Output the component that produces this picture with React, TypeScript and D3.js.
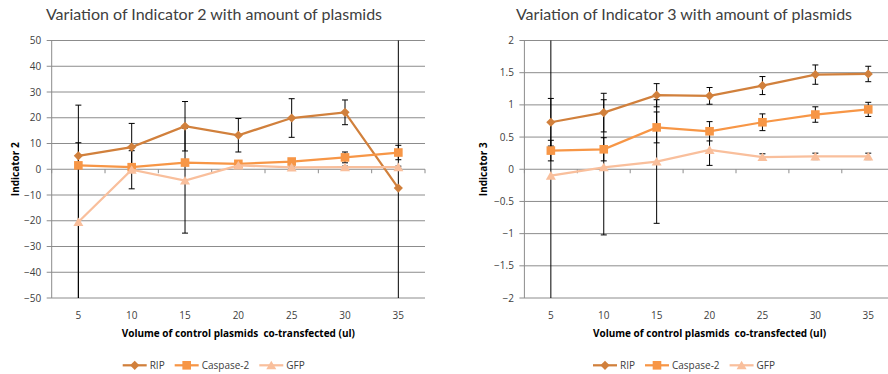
import React from 'react';
import * as d3 from 'd3';

// x categories: volume of control plasmids (ul)
const categories = ['5', '10', '15', '20', '25', '30', '35'];

// Indicator 2 (left chart)
const ind2Rip = [5.2, 8.6, 16.7, 13.2, 19.9, 22.1, -7.3];
const ind2RipErrUp = [19.7, 9.2, 9.6, 6.5, 7.5, 4.8, 60];
const ind2RipErrDown = [60, 9.2, 9.6, 6.5, 7.5, 4.8, 60];
const ind2Caspase = [1.5, 0.8, 2.6, 2.1, 3.0, 4.6, 6.5];
const ind2CaspaseErr = [0.6, 0.5, 0.6, 0.5, 0.5, 2.1, 2.8];
const ind2Gfp = [-20.5, -0.2, -4.4, 1.5, 0.7, 0.8, 0.8];
const ind2GfpErr = [30.8, 7.4, 20.4, 0.5, 0.4, 0.4, 0.4];
const ind2Ticks = [50, 40, 30, 20, 10, 0, -10, -20, -30, -40, -50];

// Indicator 3 (right chart)
const ind3Rip = [0.73, 0.88, 1.15, 1.14, 1.3, 1.47, 1.48];
const ind3RipErr = [0.37, 0.3, 0.18, 0.13, 0.14, 0.15, 0.12];
const ind3Caspase = [0.29, 0.31, 0.65, 0.59, 0.73, 0.85, 0.93];
const ind3CaspaseErr = [0.16, 0.18, 0.24, 0.15, 0.13, 0.12, 0.11];
const ind3Gfp = [-0.1, 0.03, 0.12, 0.3, 0.19, 0.2, 0.2];
const ind3GfpErr = [2.2, 1.05, 0.96, 0.24, 0.05, 0.05, 0.05];
const ind3Ticks = [2, 1.5, 1, 0.5, 0, -0.5, -1, -1.5, -2];

const seriesNames = ['RIP', 'Caspase-2', 'GFP'];
const colors = ['#d1803c', '#f79646', '#f9bf9c'];

const smallFont = "'Open Sans', sans-serif";
const titleFont = "Lato, sans-serif";

function textWidth(t, font) {
  const c = document.createElement('canvas').getContext('2d');
  c.font = font;
  return c.measureText(t).width;
}

function Marker({ kind, x, y, color }) {
  if (kind === 0) {
    const r = 4.6;
    return <path d={`M${x},${y - r}L${x + r},${y}L${x},${y + r}L${x - r},${y}Z`} fill={color} />;
  }
  if (kind === 1) {
    const s = 8.6;
    return <rect x={x - s / 2} y={y - s / 2} width={s} height={s} fill={color} />;
  }
  return <path d={`M${x},${y - 4.6}L${x + 5},${y + 4}L${x - 5},${y + 4}Z`} fill={color} />;
}

function Panel(props) {
  const { id, left, right, top, bottom, domain, ticks, title, titleX, yTitle, yTitleX, legendX, series } = props;
  const x = d3.scaleBand().domain(categories).range([left, right]);
  const bw = x.bandwidth();
  const cx = (c) => x(c) + bw / 2;
  const y = d3.scaleLinear().domain(domain).range([bottom, top]);
  const line = d3.line().x((d) => cx(d[0])).y((d) => y(d[1]));
  const y0 = y(0);

  let lx = legendX;
  const legend = seriesNames.map((n, i) => {
    const item = { n, i, x: lx };
    lx += 24 + 4 + textWidth(n, `10px ${smallFont}`) + 9;
    return item;
  });

  return (
    <g>
      <defs>
        <clipPath id={id}>
          <rect x={left} y={top} width={right - left} height={bottom - top} />
        </clipPath>
      </defs>
      <text x={titleX} y={20} textAnchor="middle" fontFamily={titleFont} fontSize={16} fill="#404040">{title}</text>

      {ticks.map((t) => (
        <g key={t}>
          <line x1={left - 5} x2={right} y1={y(t)} y2={y(t)} stroke="#8c8c8c" strokeWidth={1} />
          <text x={left - 10.5} y={y(t) + 3.5} textAnchor="end" fontFamily={smallFont} fontSize={10} fill="#404040">{d3.format('~g')(t)}</text>
        </g>
      ))}
      <line x1={left} x2={left} y1={top} y2={bottom} stroke="#8c8c8c" strokeWidth={1} />
      {d3.range(categories.length + 1).map((i) => (
        <line key={i} x1={left + i * bw} x2={left + i * bw} y1={y0} y2={y0 + 4} stroke="#8c8c8c" strokeWidth={1} />
      ))}
      {categories.map((c) => (
        <text key={c} x={cx(c)} y={318.5} textAnchor="middle" fontFamily={smallFont} fontSize={10} fill="#404040">{c}</text>
      ))}
      <text x={(left + right) / 2} y={336.5} textAnchor="middle" fontFamily={smallFont} fontWeight="bold" fontSize={10} fill="#000" style={{ whiteSpace: 'pre' }}>Volume of control plasmids  co-transfected (ul)</text>
      <text transform={`translate(${yTitleX},${(top + bottom) / 2}) rotate(-90)`} textAnchor="middle" dy="0.35em" fontFamily={smallFont} fontWeight="bold" fontSize={10} fill="#000">{yTitle}</text>

      <g clipPath={`url(#${id})`}>
        {series.map((s, si) =>
          s.values.map((v, i) => {
            const hi = y(v + s.up[i]);
            const lo = y(v - s.down[i]);
            const xc = cx(categories[i]);
            return (
              <g key={si + '-' + i} stroke="#000" strokeWidth={1}>
                <line x1={xc} x2={xc} y1={hi} y2={lo} />
                <line x1={xc - 3} x2={xc + 3} y1={hi} y2={hi} />
                <line x1={xc - 3} x2={xc + 3} y1={lo} y2={lo} />
              </g>
            );
          })
        )}
      </g>

      {series.map((s, si) => (
        <g key={si}>
          <path d={line(categories.map((c, i) => [c, s.values[i]]))} fill="none" stroke={colors[si]} strokeWidth={2.25} />
          {s.values.map((v, i) => (
            <Marker key={i} kind={si} x={cx(categories[i])} y={y(v)} color={colors[si]} />
          ))}
        </g>
      ))}

      {legend.map((it) => (
        <g key={it.n}>
          <line x1={it.x} x2={it.x + 24} y1={365.3} y2={365.3} stroke={colors[it.i]} strokeWidth={2.25} />
          <Marker kind={it.i} x={it.x + 12} y={365.3} color={colors[it.i]} />
          <text x={it.x + 27} y={368.8} fontFamily={smallFont} fontSize={10} fill="#404040">{it.n}</text>
        </g>
      ))}
    </g>
  );
}

export default function App() {
  const left = [
    { values: ind2Rip, up: ind2RipErrUp, down: ind2RipErrDown },
    { values: ind2Caspase, up: ind2CaspaseErr, down: ind2CaspaseErr },
    { values: ind2Gfp, up: ind2GfpErr, down: ind2GfpErr },
  ];
  const right = [
    { values: ind3Rip, up: ind3RipErr, down: ind3RipErr },
    { values: ind3Caspase, up: ind3CaspaseErr, down: ind3CaspaseErr },
    { values: ind3Gfp, up: ind3GfpErr, down: ind3GfpErr },
  ];
  return (
    <svg width={888} height={374} style={{ position: 'absolute', left: 0, top: 0, background: '#fff' }}>
      <Panel id="clipL" left={51.7} right={425} top={40.5} bottom={298} domain={[-50, 50]} ticks={ind2Ticks}
        title="Variation of Indicator 2 with amount of plasmids" titleX={214} yTitle="Indicator 2" yTitleX={15}
        legendX={122.7} series={left} />
      <Panel id="clipR" left={524.4} right={894.7} top={40.5} bottom={298} domain={[-2, 2]} ticks={ind3Ticks}
        title="Variation of Indicator 3 with amount of plasmids" titleX={684} yTitle="Indicator 3" yTitleX={483}
        legendX={593} series={right} />
    </svg>
  );
}
